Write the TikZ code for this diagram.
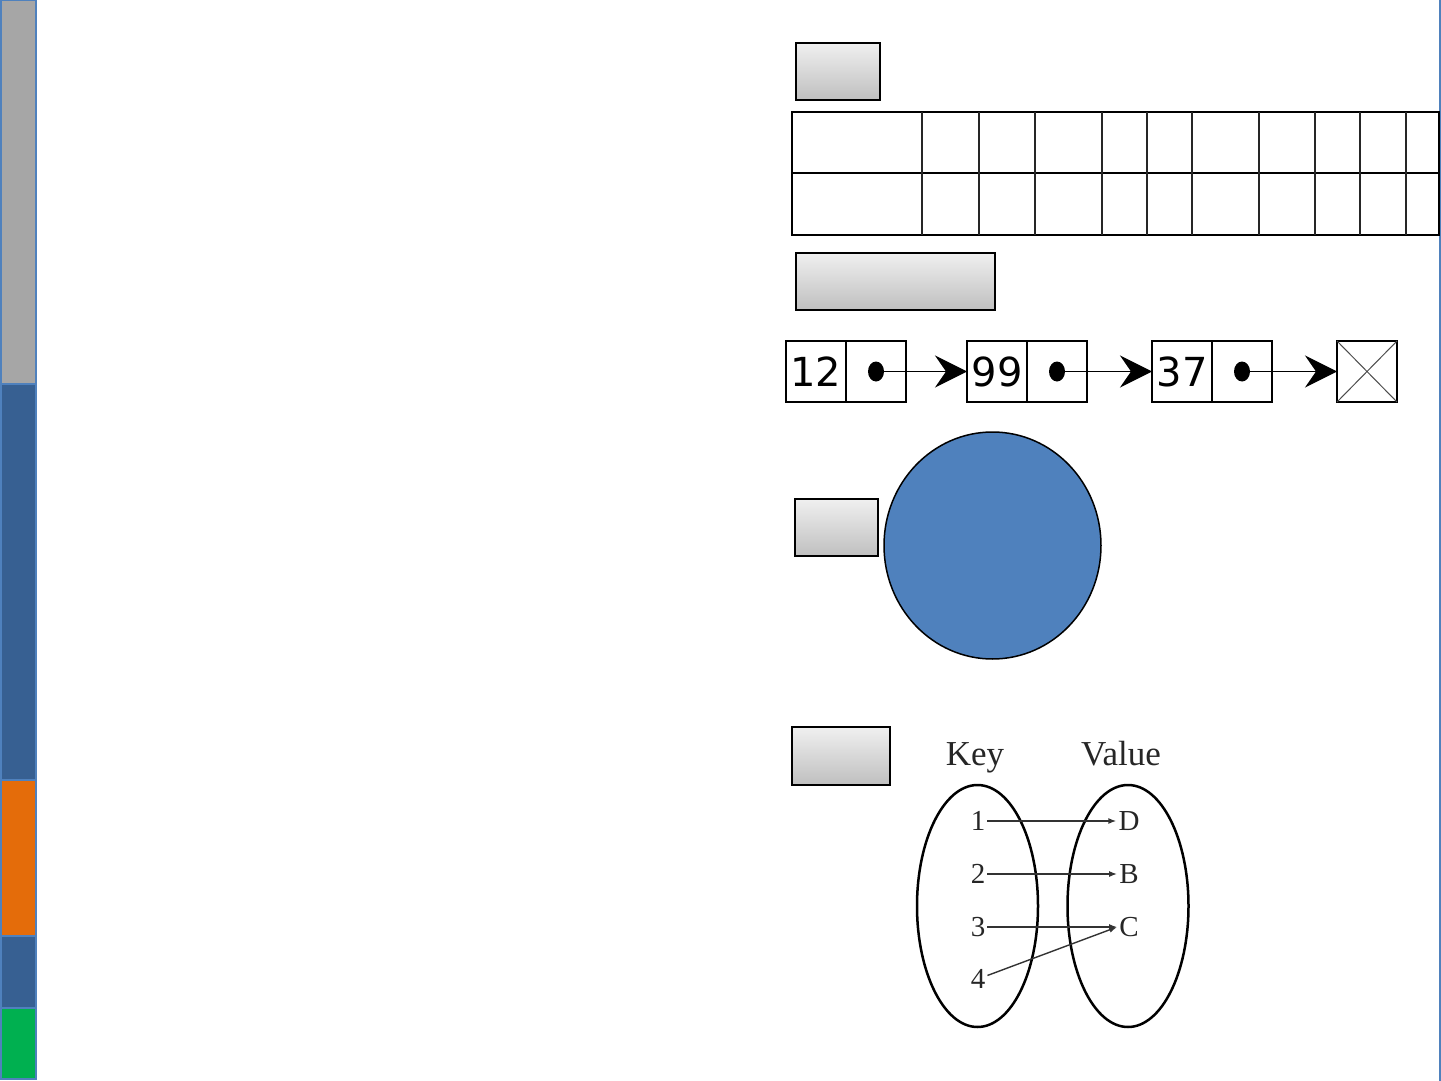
\documentclass[tikz,border=0pt]{standalone}
\usepackage{fontspec}
\usetikzlibrary{arrows.meta,positioning,shapes.geometric}
\newfontfamily\listfont{DejaVu Sans}
\newfontfamily\mapfont{Liberation Serif}
\definecolor{barblue}{RGB}{55,96,146}
\definecolor{barline}{RGB}{79,129,189}
\definecolor{bargray}{RGB}{166,166,166}
\definecolor{barorange}{RGB}{228,108,10}
\definecolor{bargreen}{RGB}{0,176,80}
\definecolor{blobblue}{RGB}{79,129,189}
\tikzset{
  gbox/.style={draw,line width=1.5pt,top color=gray!12,bottom color=gray!50,inner sep=0pt,minimum height=57pt},
  cell/.style={draw,line width=1.3pt,minimum width=60pt,minimum height=61pt,inner sep=0pt,outer sep=0pt,font=\listfont\fontsize{40}{40}\selectfont},
  dot/.style={ellipse,fill,inner sep=0pt,minimum width=16pt,minimum height=20pt},
  link/.style={-{Stealth[length=32pt,width=32pt,inset=11pt]},line width=1.3pt},
  setnum/.style={font=\mapfont\fontsize{29}{29}\selectfont,inner sep=2pt,text=black!85},
  keyset/.style={ellipse,draw,line width=2.5pt,minimum width=121pt,minimum height=242pt}
}
\begin{document}
\begin{tikzpicture}[x=1pt,y=-1pt]
\useasboundingbox (0,0) rectangle (1441,1081);
% side bar
\foreach \top/\bot/\col in {0/384/bargray,384/780/barblue,780/936/barorange,936/1008/barblue,1008/1079/bargreen}
  \filldraw[fill=\col,draw=barline,line width=1.5pt] (1,\top) rectangle (36,\bot);
\draw[barline,line width=1.5pt] (1440,0) -- (1440,1081);

% array
\node[gbox,minimum width=84pt] (arrbox) at (838,71.5) {};
\draw[line width=2pt] (792,112) rectangle (1439,235);
\draw[line width=2pt] (792,173) -- (1439,173);
\foreach \x in {922,979,1035,1102,1147,1192,1259,1315,1360,1406}
  \draw[line width=1.5pt,black!85] (\x,112) -- (\x,235);

% linked list
\node[gbox,minimum width=199pt] (listbox) at (895.5,281.5) {};
\node[cell] (n1) at (816,371.5) {12};
\node[cell] (p1) [right=0pt of n1] {};
\node[cell] (n2) at (997,371.5) {99};
\node[cell] (p2) [right=0pt of n2] {};
\node[cell] (n3) at (1182,371.5) {37};
\node[cell] (p3) [right=0pt of n3] {};
\node[cell] (nil) at (1367,371.5) {};
\draw[black!70,line width=1pt] (nil.north west) -- (nil.south east) (nil.north east) -- (nil.south west);
\node[dot] (d1) at (p1) {};
\node[dot] (d2) at (p2) {};
\node[dot] (d3) at (p3) {};
\draw[link] (d1.center) -- (n2.west);
\draw[link] (d2.center) -- (n3.west);
\draw[link] (d3.center) -- (nil.west);

% tree / set
\node[gbox,minimum width=83pt] (setbox) at (836.5,527.5) {};
\node[ellipse,draw,line width=1.5pt,fill=blobblue,minimum width=217pt,minimum height=227pt] (blob) at (992.5,545.5) {};

% map
\node[gbox,minimum width=98pt,minimum height=58pt] (mapbox) at (841,756) {};
\node[font=\mapfont\fontsize{35}{35}\selectfont,anchor=base,text=black!85] (keylab) at (975,765) {Key};
\node[font=\mapfont\fontsize{35}{35}\selectfont,anchor=base,text=black!85] (vallab) at (1121,765) {Value};
\node[keyset] (keys) at (977.5,906) {};
\node[keyset] (vals) at (1128,906) {};
\node[setnum] (k1) at (978,821) {1};
\node[setnum] (k2) at (978,874) {2};
\node[setnum] (k3) at (978,927) {3};
\node[setnum] (k4) at (978,979) {4};
\node[setnum] (v1) at (1129,821) {D};
\node[setnum] (v2) at (1129,874) {B};
\node[setnum] (v3) at (1129,927) {C};
\path[-{Latex[length=8pt,width=6pt]},line width=1.4pt,black!80]
  (k1) edge (v1)
  (k2) edge (v2)
  (k3) edge (v3)
  (k4) edge (v3.west);
\end{tikzpicture}
\end{document}
